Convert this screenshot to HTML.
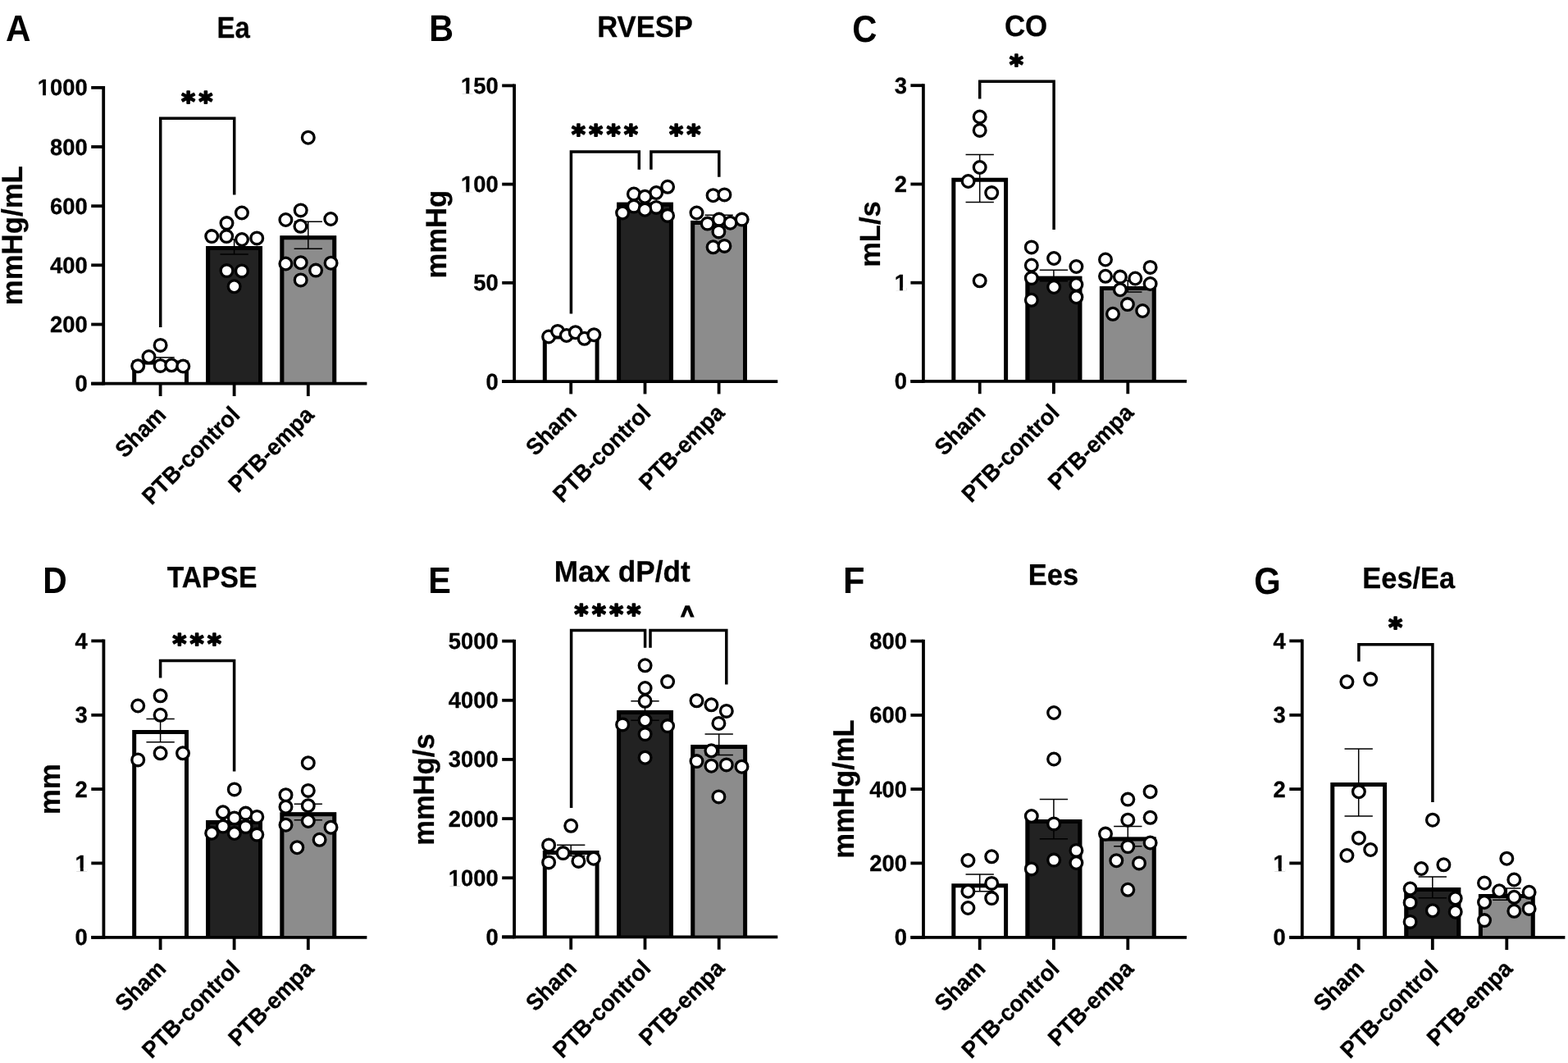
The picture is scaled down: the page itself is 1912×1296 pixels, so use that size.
<!DOCTYPE html>
<html lang="en"><head><meta charset="utf-8"><title>Figure</title>
<style>
html,body{margin:0;padding:0;background:#fff;}
body{width:1912px;height:1296px;overflow:hidden;}
svg{display:block;}
svg text{font-family:"Liberation Sans", Arial, Helvetica, sans-serif;font-weight:700;fill:#000;text-rendering:geometricPrecision;stroke:#000;stroke-width:0.3px;stroke-linejoin:round;}
svg text.st{font-family:"DejaVu Sans","Liberation Sans",sans-serif;font-weight:700;font-size:32px;letter-spacing:4.6px;stroke:#000;stroke-width:2px;stroke-linejoin:round;}
</style></head>
<body>
<svg width="1912" height="1296" viewBox="0 0 1912 1296">
<rect width="1912" height="1296" fill="#fff"/>
<g>
<rect x="161.20" y="439.60" width="68.80" height="28.60" fill="#ffffff"/>
<path d="M163.70 468.20V442.10H227.50V468.20" fill="none" stroke="#000" stroke-width="5" stroke-linejoin="miter"/>
<rect x="251.20" y="300.10" width="68.80" height="168.10" fill="#222222"/>
<path d="M253.70 468.20V302.60H317.50V468.20" fill="none" stroke="#000" stroke-width="5" stroke-linejoin="miter"/>
<rect x="341.40" y="287.30" width="68.80" height="180.90" fill="#8c8c8c"/>
<path d="M343.90 468.20V289.80H407.70V468.20" fill="none" stroke="#000" stroke-width="5" stroke-linejoin="miter"/>
<path d="M195.60 435.70V443.50M178.45 435.70h34.3M178.45 443.50h34.3" fill="none" stroke="#000" stroke-width="1.5"/>
<path d="M285.60 292.00V310.00M268.45 292.00h34.3M268.45 310.00h34.3" fill="none" stroke="#000" stroke-width="1.5"/>
<path d="M375.80 270.30V303.30M358.65 270.30h34.3M358.65 303.30h34.3" fill="none" stroke="#000" stroke-width="1.5"/>
<path d="M126.20 104.95V469.60" stroke="#000" stroke-width="3.8" fill="none"/>
<path d="M111.20 467.70H447.40" stroke="#000" stroke-width="3.8" fill="none"/>
<path d="M111.20 467.70H126.20" stroke="#000" stroke-width="3.8" fill="none"/>
<text transform="translate(106.70 477.20) scale(1 1.015)" text-anchor="end" font-size="27.4">0</text>
<path d="M111.20 395.50H126.20" stroke="#000" stroke-width="3.8" fill="none"/>
<text transform="translate(106.70 405.00) scale(1 1.015)" text-anchor="end" font-size="27.4">200</text>
<path d="M111.20 323.30H126.20" stroke="#000" stroke-width="3.8" fill="none"/>
<text transform="translate(106.70 332.80) scale(1 1.015)" text-anchor="end" font-size="27.4">400</text>
<path d="M111.20 251.20H126.20" stroke="#000" stroke-width="3.8" fill="none"/>
<text transform="translate(106.70 260.70) scale(1 1.015)" text-anchor="end" font-size="27.4">600</text>
<path d="M111.20 179.00H126.20" stroke="#000" stroke-width="3.8" fill="none"/>
<text transform="translate(106.70 188.50) scale(1 1.015)" text-anchor="end" font-size="27.4">800</text>
<path d="M111.20 106.85H126.20" stroke="#000" stroke-width="3.8" fill="none"/>
<text transform="translate(106.70 116.35) scale(1 1.015)" text-anchor="end" font-size="27.4">1000</text>
<path d="M46.75 112.77H52.09V116.95H46.75ZM55.92 112.77H60.86V116.95H55.92Z" fill="#fff"/>
<path d="M195.60 467.70V483.00" stroke="#000" stroke-width="3.8" fill="none"/>
<path d="M285.60 467.70V483.00" stroke="#000" stroke-width="3.8" fill="none"/>
<path d="M375.80 467.70V483.00" stroke="#000" stroke-width="3.8" fill="none"/>
<text transform="translate(204.10 507.50) rotate(-45) scale(1 1.045)" text-anchor="end" font-size="27">Sham</text>
<text transform="translate(294.10 507.50) rotate(-45) scale(1 1.045)" text-anchor="end" font-size="27">PTB-control</text>
<text transform="translate(384.30 507.50) rotate(-45) scale(1 1.045)" text-anchor="end" font-size="27">PTB-empa</text>
<circle cx="195.6" cy="420.9" r="7.35" fill="#fff" stroke="#000" stroke-width="3.3"/>
<circle cx="181.5" cy="435.0" r="7.35" fill="#fff" stroke="#000" stroke-width="3.3"/>
<circle cx="168.2" cy="446.3" r="7.35" fill="#fff" stroke="#000" stroke-width="3.3"/>
<circle cx="195.6" cy="445.9" r="7.35" fill="#fff" stroke="#000" stroke-width="3.3"/>
<circle cx="209.2" cy="445.3" r="7.35" fill="#fff" stroke="#000" stroke-width="3.3"/>
<circle cx="223.3" cy="446.5" r="7.35" fill="#fff" stroke="#000" stroke-width="3.3"/>
<circle cx="294.9" cy="259.5" r="7.35" fill="#fff" stroke="#000" stroke-width="3.3"/>
<circle cx="276.5" cy="272.1" r="7.35" fill="#fff" stroke="#000" stroke-width="3.3"/>
<circle cx="258.2" cy="288.1" r="7.35" fill="#fff" stroke="#000" stroke-width="3.3"/>
<circle cx="276.2" cy="288.1" r="7.35" fill="#fff" stroke="#000" stroke-width="3.3"/>
<circle cx="295.0" cy="292.0" r="7.35" fill="#fff" stroke="#000" stroke-width="3.3"/>
<circle cx="313.2" cy="290.4" r="7.35" fill="#fff" stroke="#000" stroke-width="3.3"/>
<circle cx="276.5" cy="330.1" r="7.35" fill="#fff" stroke="#000" stroke-width="3.3"/>
<circle cx="294.9" cy="330.4" r="7.35" fill="#fff" stroke="#000" stroke-width="3.3"/>
<circle cx="285.6" cy="349.3" r="7.35" fill="#fff" stroke="#000" stroke-width="3.3"/>
<circle cx="375.8" cy="167.7" r="7.35" fill="#fff" stroke="#000" stroke-width="3.3"/>
<circle cx="366.7" cy="256.4" r="7.35" fill="#fff" stroke="#000" stroke-width="3.3"/>
<circle cx="348.4" cy="268.0" r="7.35" fill="#fff" stroke="#000" stroke-width="3.3"/>
<circle cx="403.3" cy="267.0" r="7.35" fill="#fff" stroke="#000" stroke-width="3.3"/>
<circle cx="366.4" cy="275.8" r="7.35" fill="#fff" stroke="#000" stroke-width="3.3"/>
<circle cx="348.4" cy="321.5" r="7.35" fill="#fff" stroke="#000" stroke-width="3.3"/>
<circle cx="366.7" cy="320.2" r="7.35" fill="#fff" stroke="#000" stroke-width="3.3"/>
<circle cx="403.6" cy="320.7" r="7.35" fill="#fff" stroke="#000" stroke-width="3.3"/>
<circle cx="385.1" cy="329.6" r="7.35" fill="#fff" stroke="#000" stroke-width="3.3"/>
<circle cx="366.7" cy="341.4" r="7.35" fill="#fff" stroke="#000" stroke-width="3.3"/>
<path d="M195.70 399.00V144.30H285.70V237.50" fill="none" stroke="#000" stroke-width="3.5" stroke-linejoin="miter"/>
<text x="221.20" y="135.00" class="st">**</text>
<text transform="translate(264.54 46.10) scale(0.8237 0.9091)" font-size="40">Ea</text>
<text transform="translate(27.40 372.28) rotate(-90) scale(0.8699 0.8909)" font-size="40">mmHg/mL</text>
<text style="stroke:none" transform="translate(6.97 50.00) scale(1.0561 1.1273)" font-size="40">A</text>
</g>
<g>
<rect x="661.80" y="408.50" width="68.80" height="57.10" fill="#ffffff"/>
<path d="M664.30 465.60V411.00H728.10V465.60" fill="none" stroke="#000" stroke-width="5" stroke-linejoin="miter"/>
<rect x="752.10" y="246.80" width="68.80" height="218.80" fill="#222222"/>
<path d="M754.60 465.60V249.30H818.40V465.60" fill="none" stroke="#000" stroke-width="5" stroke-linejoin="miter"/>
<rect x="842.20" y="268.90" width="68.80" height="196.70" fill="#8c8c8c"/>
<path d="M844.70 465.60V271.40H908.50V465.60" fill="none" stroke="#000" stroke-width="5" stroke-linejoin="miter"/>
<path d="M696.20 406.50V410.50M679.05 406.50h34.3M679.05 410.50h34.3" fill="none" stroke="#000" stroke-width="1.5"/>
<path d="M786.50 242.00V252.00M769.35 242.00h34.3M769.35 252.00h34.3" fill="none" stroke="#000" stroke-width="1.5"/>
<path d="M876.60 262.30V276.50M859.45 262.30h34.3M859.45 276.50h34.3" fill="none" stroke="#000" stroke-width="1.5"/>
<path d="M627.10 102.50V467.00" stroke="#000" stroke-width="3.8" fill="none"/>
<path d="M612.20 465.10H948.30" stroke="#000" stroke-width="3.8" fill="none"/>
<path d="M612.20 465.10H627.10" stroke="#000" stroke-width="3.8" fill="none"/>
<text transform="translate(607.70 474.60) scale(1 1.015)" text-anchor="end" font-size="27.4">0</text>
<path d="M612.20 344.80H627.10" stroke="#000" stroke-width="3.8" fill="none"/>
<text transform="translate(607.70 354.30) scale(1 1.015)" text-anchor="end" font-size="27.4">50</text>
<path d="M612.20 224.60H627.10" stroke="#000" stroke-width="3.8" fill="none"/>
<text transform="translate(607.70 234.10) scale(1 1.015)" text-anchor="end" font-size="27.4">100</text>
<path d="M562.99 230.52H568.33V234.70H562.99ZM572.16 230.52H577.09V234.70H572.16Z" fill="#fff"/>
<path d="M612.20 104.40H627.10" stroke="#000" stroke-width="3.8" fill="none"/>
<text transform="translate(607.70 113.90) scale(1 1.015)" text-anchor="end" font-size="27.4">150</text>
<path d="M562.99 110.32H568.33V114.50H562.99ZM572.16 110.32H577.09V114.50H572.16Z" fill="#fff"/>
<path d="M696.20 465.10V480.40" stroke="#000" stroke-width="3.8" fill="none"/>
<path d="M786.50 465.10V480.40" stroke="#000" stroke-width="3.8" fill="none"/>
<path d="M876.60 465.10V480.40" stroke="#000" stroke-width="3.8" fill="none"/>
<text transform="translate(704.70 504.90) rotate(-45) scale(1 1.045)" text-anchor="end" font-size="27">Sham</text>
<text transform="translate(795.00 504.90) rotate(-45) scale(1 1.045)" text-anchor="end" font-size="27">PTB-control</text>
<text transform="translate(885.10 504.90) rotate(-45) scale(1 1.045)" text-anchor="end" font-size="27">PTB-empa</text>
<circle cx="669.1" cy="410.5" r="7.35" fill="#fff" stroke="#000" stroke-width="3.3"/>
<circle cx="680.0" cy="403.9" r="7.35" fill="#fff" stroke="#000" stroke-width="3.3"/>
<circle cx="690.8" cy="409.0" r="7.35" fill="#fff" stroke="#000" stroke-width="3.3"/>
<circle cx="701.7" cy="405.2" r="7.35" fill="#fff" stroke="#000" stroke-width="3.3"/>
<circle cx="712.6" cy="412.8" r="7.35" fill="#fff" stroke="#000" stroke-width="3.3"/>
<circle cx="724.3" cy="408.2" r="7.35" fill="#fff" stroke="#000" stroke-width="3.3"/>
<circle cx="814.1" cy="227.8" r="7.35" fill="#fff" stroke="#000" stroke-width="3.3"/>
<circle cx="800.2" cy="235.0" r="7.35" fill="#fff" stroke="#000" stroke-width="3.3"/>
<circle cx="772.9" cy="236.5" r="7.35" fill="#fff" stroke="#000" stroke-width="3.3"/>
<circle cx="786.4" cy="239.7" r="7.35" fill="#fff" stroke="#000" stroke-width="3.3"/>
<circle cx="772.9" cy="251.6" r="7.35" fill="#fff" stroke="#000" stroke-width="3.3"/>
<circle cx="800.2" cy="252.9" r="7.35" fill="#fff" stroke="#000" stroke-width="3.3"/>
<circle cx="786.4" cy="255.7" r="7.35" fill="#fff" stroke="#000" stroke-width="3.3"/>
<circle cx="759.1" cy="259.5" r="7.35" fill="#fff" stroke="#000" stroke-width="3.3"/>
<circle cx="814.1" cy="262.9" r="7.35" fill="#fff" stroke="#000" stroke-width="3.3"/>
<circle cx="869.6" cy="238.2" r="7.35" fill="#fff" stroke="#000" stroke-width="3.3"/>
<circle cx="883.4" cy="237.4" r="7.35" fill="#fff" stroke="#000" stroke-width="3.3"/>
<circle cx="849.5" cy="259.5" r="7.35" fill="#fff" stroke="#000" stroke-width="3.3"/>
<circle cx="876.8" cy="267.6" r="7.35" fill="#fff" stroke="#000" stroke-width="3.3"/>
<circle cx="904.7" cy="267.6" r="7.35" fill="#fff" stroke="#000" stroke-width="3.3"/>
<circle cx="862.7" cy="272.6" r="7.35" fill="#fff" stroke="#000" stroke-width="3.3"/>
<circle cx="890.5" cy="271.7" r="7.35" fill="#fff" stroke="#000" stroke-width="3.3"/>
<circle cx="876.4" cy="282.4" r="7.35" fill="#fff" stroke="#000" stroke-width="3.3"/>
<circle cx="869.6" cy="301.3" r="7.35" fill="#fff" stroke="#000" stroke-width="3.3"/>
<circle cx="883.4" cy="299.9" r="7.35" fill="#fff" stroke="#000" stroke-width="3.3"/>
<path d="M696.40 382.60V185.10H779.30V206.70" fill="none" stroke="#000" stroke-width="3.5" stroke-linejoin="miter"/>
<text x="697.00" y="175.20" class="st">****</text>
<path d="M793.90 206.70V185.10H876.80V215.80" fill="none" stroke="#000" stroke-width="3.5" stroke-linejoin="miter"/>
<text x="816.20" y="175.20" class="st">**</text>
<text transform="translate(728.23 44.50) scale(0.8649 0.9127)" font-size="40">RVESP</text>
<text transform="translate(543.50 339.57) rotate(-90) scale(0.8655 0.8873)" font-size="40">mmHg</text>
<text style="stroke:none" transform="translate(523.19 50.00) scale(1.0327 1.1345)" font-size="40">B</text>
</g>
<g>
<rect x="1160.30" y="216.80" width="68.80" height="248.60" fill="#ffffff"/>
<path d="M1162.80 465.40V219.30H1226.60V465.40" fill="none" stroke="#000" stroke-width="5" stroke-linejoin="miter"/>
<rect x="1250.50" y="336.80" width="68.80" height="128.60" fill="#222222"/>
<path d="M1253.00 465.40V339.30H1316.80V465.40" fill="none" stroke="#000" stroke-width="5" stroke-linejoin="miter"/>
<rect x="1340.90" y="349.10" width="68.80" height="116.30" fill="#8c8c8c"/>
<path d="M1343.40 465.40V351.60H1407.20V465.40" fill="none" stroke="#000" stroke-width="5" stroke-linejoin="miter"/>
<path d="M1194.70 188.40V246.40M1177.55 188.40h34.3M1177.55 246.40h34.3" fill="none" stroke="#000" stroke-width="1.5"/>
<path d="M1284.90 329.30V342.80M1267.75 329.30h34.3M1267.75 342.80h34.3" fill="none" stroke="#000" stroke-width="1.5"/>
<path d="M1375.30 342.00V356.00M1358.15 342.00h34.3M1358.15 356.00h34.3" fill="none" stroke="#000" stroke-width="1.5"/>
<path d="M1125.90 102.30V466.80" stroke="#000" stroke-width="3.8" fill="none"/>
<path d="M1110.40 464.90H1447.00" stroke="#000" stroke-width="3.8" fill="none"/>
<path d="M1110.40 464.90H1125.90" stroke="#000" stroke-width="3.8" fill="none"/>
<text transform="translate(1105.90 474.40) scale(1 1.015)" text-anchor="end" font-size="27.4">0</text>
<path d="M1110.40 344.70H1125.90" stroke="#000" stroke-width="3.8" fill="none"/>
<text transform="translate(1105.90 354.20) scale(1 1.015)" text-anchor="end" font-size="27.4">1</text>
<path d="M1091.67 350.62H1097.01V354.80H1091.67ZM1100.84 350.62H1105.77V354.80H1100.84Z" fill="#fff"/>
<path d="M1110.40 224.50H1125.90" stroke="#000" stroke-width="3.8" fill="none"/>
<text transform="translate(1105.90 234.00) scale(1 1.015)" text-anchor="end" font-size="27.4">2</text>
<path d="M1110.40 104.20H1125.90" stroke="#000" stroke-width="3.8" fill="none"/>
<text transform="translate(1105.90 113.70) scale(1 1.015)" text-anchor="end" font-size="27.4">3</text>
<path d="M1194.70 464.90V480.20" stroke="#000" stroke-width="3.8" fill="none"/>
<path d="M1284.90 464.90V480.20" stroke="#000" stroke-width="3.8" fill="none"/>
<path d="M1375.30 464.90V480.20" stroke="#000" stroke-width="3.8" fill="none"/>
<text transform="translate(1203.20 504.70) rotate(-45) scale(1 1.045)" text-anchor="end" font-size="27">Sham</text>
<text transform="translate(1293.40 504.70) rotate(-45) scale(1 1.045)" text-anchor="end" font-size="27">PTB-control</text>
<text transform="translate(1383.80 504.70) rotate(-45) scale(1 1.045)" text-anchor="end" font-size="27">PTB-empa</text>
<circle cx="1194.7" cy="142.5" r="7.35" fill="#fff" stroke="#000" stroke-width="3.3"/>
<circle cx="1194.7" cy="158.9" r="7.35" fill="#fff" stroke="#000" stroke-width="3.3"/>
<circle cx="1194.7" cy="204.0" r="7.35" fill="#fff" stroke="#000" stroke-width="3.3"/>
<circle cx="1180.6" cy="221.0" r="7.35" fill="#fff" stroke="#000" stroke-width="3.3"/>
<circle cx="1209.2" cy="235.1" r="7.35" fill="#fff" stroke="#000" stroke-width="3.3"/>
<circle cx="1194.7" cy="342.3" r="7.35" fill="#fff" stroke="#000" stroke-width="3.3"/>
<circle cx="1257.8" cy="301.4" r="7.35" fill="#fff" stroke="#000" stroke-width="3.3"/>
<circle cx="1285.1" cy="315.0" r="7.35" fill="#fff" stroke="#000" stroke-width="3.3"/>
<circle cx="1257.8" cy="323.5" r="7.35" fill="#fff" stroke="#000" stroke-width="3.3"/>
<circle cx="1312.4" cy="325.0" r="7.35" fill="#fff" stroke="#000" stroke-width="3.3"/>
<circle cx="1257.8" cy="339.1" r="7.35" fill="#fff" stroke="#000" stroke-width="3.3"/>
<circle cx="1312.4" cy="347.0" r="7.35" fill="#fff" stroke="#000" stroke-width="3.3"/>
<circle cx="1285.1" cy="350.0" r="7.35" fill="#fff" stroke="#000" stroke-width="3.3"/>
<circle cx="1312.4" cy="362.2" r="7.35" fill="#fff" stroke="#000" stroke-width="3.3"/>
<circle cx="1257.8" cy="365.8" r="7.35" fill="#fff" stroke="#000" stroke-width="3.3"/>
<circle cx="1348.0" cy="316.5" r="7.35" fill="#fff" stroke="#000" stroke-width="3.3"/>
<circle cx="1402.6" cy="325.9" r="7.35" fill="#fff" stroke="#000" stroke-width="3.3"/>
<circle cx="1348.0" cy="336.8" r="7.35" fill="#fff" stroke="#000" stroke-width="3.3"/>
<circle cx="1365.9" cy="337.6" r="7.35" fill="#fff" stroke="#000" stroke-width="3.3"/>
<circle cx="1384.3" cy="339.5" r="7.35" fill="#fff" stroke="#000" stroke-width="3.3"/>
<circle cx="1402.6" cy="346.0" r="7.35" fill="#fff" stroke="#000" stroke-width="3.3"/>
<circle cx="1365.9" cy="353.2" r="7.35" fill="#fff" stroke="#000" stroke-width="3.3"/>
<circle cx="1374.9" cy="371.1" r="7.35" fill="#fff" stroke="#000" stroke-width="3.3"/>
<circle cx="1393.2" cy="379.0" r="7.35" fill="#fff" stroke="#000" stroke-width="3.3"/>
<circle cx="1357.0" cy="382.8" r="7.35" fill="#fff" stroke="#000" stroke-width="3.3"/>
<path d="M1194.70 120.60V99.20H1285.10V280.00" fill="none" stroke="#000" stroke-width="3.5" stroke-linejoin="miter"/>
<text x="1230.90" y="90.20" class="st">*</text>
<text transform="translate(1224.88 43.60) scale(0.8722 0.9055)" font-size="40">CO</text>
<text transform="translate(1072.80 325.87) rotate(-90) scale(0.8640 0.8800)" font-size="40">mL/s</text>
<text style="stroke:none" transform="translate(1039.20 50.77) scale(1.0450 1.1504)" font-size="40">C</text>
</g>
<g>
<rect x="161.20" y="890.10" width="68.80" height="253.20" fill="#ffffff"/>
<path d="M163.70 1143.30V892.60H227.50V1143.30" fill="none" stroke="#000" stroke-width="5" stroke-linejoin="miter"/>
<rect x="251.20" y="1000.00" width="68.80" height="143.30" fill="#222222"/>
<path d="M253.70 1143.30V1002.50H317.50V1143.30" fill="none" stroke="#000" stroke-width="5" stroke-linejoin="miter"/>
<rect x="341.40" y="990.30" width="68.80" height="153.00" fill="#8c8c8c"/>
<path d="M343.90 1143.30V992.80H407.70V1143.30" fill="none" stroke="#000" stroke-width="5" stroke-linejoin="miter"/>
<path d="M195.60 876.50V904.80M178.45 876.50h34.3M178.45 904.80h34.3" fill="none" stroke="#000" stroke-width="1.5"/>
<path d="M285.60 995.00V1005.00M268.45 995.00h34.3M268.45 1005.00h34.3" fill="none" stroke="#000" stroke-width="1.5"/>
<path d="M375.80 980.30V999.70M358.65 980.30h34.3M358.65 999.70h34.3" fill="none" stroke="#000" stroke-width="1.5"/>
<path d="M126.40 779.50V1144.70" stroke="#000" stroke-width="3.8" fill="none"/>
<path d="M111.30 1142.80H447.40" stroke="#000" stroke-width="3.8" fill="none"/>
<path d="M111.30 1142.80H126.40" stroke="#000" stroke-width="3.8" fill="none"/>
<text transform="translate(106.80 1152.30) scale(1 1.015)" text-anchor="end" font-size="27.4">0</text>
<path d="M111.30 1052.40H126.40" stroke="#000" stroke-width="3.8" fill="none"/>
<text transform="translate(106.80 1061.90) scale(1 1.015)" text-anchor="end" font-size="27.4">1</text>
<path d="M92.57 1058.32H97.91V1062.50H92.57ZM101.74 1058.32H106.67V1062.50H101.74Z" fill="#fff"/>
<path d="M111.30 962.10H126.40" stroke="#000" stroke-width="3.8" fill="none"/>
<text transform="translate(106.80 971.60) scale(1 1.015)" text-anchor="end" font-size="27.4">2</text>
<path d="M111.30 871.80H126.40" stroke="#000" stroke-width="3.8" fill="none"/>
<text transform="translate(106.80 881.30) scale(1 1.015)" text-anchor="end" font-size="27.4">3</text>
<path d="M111.30 781.40H126.40" stroke="#000" stroke-width="3.8" fill="none"/>
<text transform="translate(106.80 790.90) scale(1 1.015)" text-anchor="end" font-size="27.4">4</text>
<path d="M195.60 1142.80V1158.10" stroke="#000" stroke-width="3.8" fill="none"/>
<path d="M285.60 1142.80V1158.10" stroke="#000" stroke-width="3.8" fill="none"/>
<path d="M375.80 1142.80V1158.10" stroke="#000" stroke-width="3.8" fill="none"/>
<text transform="translate(204.10 1182.60) rotate(-45) scale(1 1.045)" text-anchor="end" font-size="27">Sham</text>
<text transform="translate(294.10 1182.60) rotate(-45) scale(1 1.045)" text-anchor="end" font-size="27">PTB-control</text>
<text transform="translate(384.30 1182.60) rotate(-45) scale(1 1.045)" text-anchor="end" font-size="27">PTB-empa</text>
<circle cx="195.6" cy="848.3" r="7.35" fill="#fff" stroke="#000" stroke-width="3.3"/>
<circle cx="168.2" cy="860.5" r="7.35" fill="#fff" stroke="#000" stroke-width="3.3"/>
<circle cx="195.6" cy="871.8" r="7.35" fill="#fff" stroke="#000" stroke-width="3.3"/>
<circle cx="195.6" cy="918.3" r="7.35" fill="#fff" stroke="#000" stroke-width="3.3"/>
<circle cx="223.0" cy="918.3" r="7.35" fill="#fff" stroke="#000" stroke-width="3.3"/>
<circle cx="168.2" cy="926.4" r="7.35" fill="#fff" stroke="#000" stroke-width="3.3"/>
<circle cx="285.8" cy="962.4" r="7.35" fill="#fff" stroke="#000" stroke-width="3.3"/>
<circle cx="271.9" cy="990.3" r="7.35" fill="#fff" stroke="#000" stroke-width="3.3"/>
<circle cx="299.6" cy="991.6" r="7.35" fill="#fff" stroke="#000" stroke-width="3.3"/>
<circle cx="313.3" cy="995.9" r="7.35" fill="#fff" stroke="#000" stroke-width="3.3"/>
<circle cx="285.8" cy="997.4" r="7.35" fill="#fff" stroke="#000" stroke-width="3.3"/>
<circle cx="271.9" cy="1007.6" r="7.35" fill="#fff" stroke="#000" stroke-width="3.3"/>
<circle cx="299.6" cy="1008.1" r="7.35" fill="#fff" stroke="#000" stroke-width="3.3"/>
<circle cx="258.2" cy="1015.7" r="7.35" fill="#fff" stroke="#000" stroke-width="3.3"/>
<circle cx="285.8" cy="1016.0" r="7.35" fill="#fff" stroke="#000" stroke-width="3.3"/>
<circle cx="313.3" cy="1017.6" r="7.35" fill="#fff" stroke="#000" stroke-width="3.3"/>
<circle cx="375.8" cy="930.2" r="7.35" fill="#fff" stroke="#000" stroke-width="3.3"/>
<circle cx="375.8" cy="963.9" r="7.35" fill="#fff" stroke="#000" stroke-width="3.3"/>
<circle cx="348.5" cy="969.2" r="7.35" fill="#fff" stroke="#000" stroke-width="3.3"/>
<circle cx="375.8" cy="982.2" r="7.35" fill="#fff" stroke="#000" stroke-width="3.3"/>
<circle cx="348.5" cy="983.7" r="7.35" fill="#fff" stroke="#000" stroke-width="3.3"/>
<circle cx="375.8" cy="1001.0" r="7.35" fill="#fff" stroke="#000" stroke-width="3.3"/>
<circle cx="348.5" cy="1005.7" r="7.35" fill="#fff" stroke="#000" stroke-width="3.3"/>
<circle cx="403.5" cy="1008.7" r="7.35" fill="#fff" stroke="#000" stroke-width="3.3"/>
<circle cx="389.6" cy="1023.8" r="7.35" fill="#fff" stroke="#000" stroke-width="3.3"/>
<circle cx="362.3" cy="1033.2" r="7.35" fill="#fff" stroke="#000" stroke-width="3.3"/>
<path d="M195.60 826.60V805.50H285.60V940.50" fill="none" stroke="#000" stroke-width="3.5" stroke-linejoin="miter"/>
<text x="210.40" y="796.20" class="st">***</text>
<text transform="translate(203.68 715.80) scale(0.8413 0.9055)" font-size="40">TAPSE</text>
<text transform="translate(73.10 993.19) rotate(-90) scale(0.8727 0.8967)" font-size="40">mm</text>
<text style="stroke:none" transform="translate(52.32 723.00) scale(1.0193 1.1273)" font-size="40">D</text>
</g>
<g>
<rect x="661.80" y="1036.90" width="68.80" height="106.00" fill="#ffffff"/>
<path d="M664.30 1142.90V1039.40H728.10V1142.90" fill="none" stroke="#000" stroke-width="5" stroke-linejoin="miter"/>
<rect x="752.10" y="865.90" width="68.80" height="277.00" fill="#222222"/>
<path d="M754.60 1142.90V868.40H818.40V1142.90" fill="none" stroke="#000" stroke-width="5" stroke-linejoin="miter"/>
<rect x="842.30" y="907.90" width="68.80" height="235.00" fill="#8c8c8c"/>
<path d="M844.80 1142.90V910.40H908.60V1142.90" fill="none" stroke="#000" stroke-width="5" stroke-linejoin="miter"/>
<path d="M696.20 1030.20V1043.60M679.05 1030.20h34.3M679.05 1043.60h34.3" fill="none" stroke="#000" stroke-width="1.5"/>
<path d="M786.50 854.80V878.20M769.35 854.80h34.3M769.35 878.20h34.3" fill="none" stroke="#000" stroke-width="1.5"/>
<path d="M876.70 895.10V920.50M859.55 895.10h34.3M859.55 920.50h34.3" fill="none" stroke="#000" stroke-width="1.5"/>
<path d="M627.10 779.70V1144.30" stroke="#000" stroke-width="3.8" fill="none"/>
<path d="M612.20 1142.40H948.30" stroke="#000" stroke-width="3.8" fill="none"/>
<path d="M612.20 1142.40H627.10" stroke="#000" stroke-width="3.8" fill="none"/>
<text transform="translate(607.70 1151.90) scale(1 1.015)" text-anchor="end" font-size="27.4">0</text>
<path d="M612.20 1070.30H627.10" stroke="#000" stroke-width="3.8" fill="none"/>
<text transform="translate(607.70 1079.80) scale(1 1.015)" text-anchor="end" font-size="27.4">1000</text>
<path d="M547.75 1076.22H553.09V1080.40H547.75ZM556.92 1076.22H561.86V1080.40H556.92Z" fill="#fff"/>
<path d="M612.20 998.10H627.10" stroke="#000" stroke-width="3.8" fill="none"/>
<text transform="translate(607.70 1007.60) scale(1 1.015)" text-anchor="end" font-size="27.4">2000</text>
<path d="M612.20 925.90H627.10" stroke="#000" stroke-width="3.8" fill="none"/>
<text transform="translate(607.70 935.40) scale(1 1.015)" text-anchor="end" font-size="27.4">3000</text>
<path d="M612.20 853.80H627.10" stroke="#000" stroke-width="3.8" fill="none"/>
<text transform="translate(607.70 863.30) scale(1 1.015)" text-anchor="end" font-size="27.4">4000</text>
<path d="M612.20 781.60H627.10" stroke="#000" stroke-width="3.8" fill="none"/>
<text transform="translate(607.70 791.10) scale(1 1.015)" text-anchor="end" font-size="27.4">5000</text>
<path d="M696.20 1142.40V1157.70" stroke="#000" stroke-width="3.8" fill="none"/>
<path d="M786.50 1142.40V1157.70" stroke="#000" stroke-width="3.8" fill="none"/>
<path d="M876.70 1142.40V1157.70" stroke="#000" stroke-width="3.8" fill="none"/>
<text transform="translate(704.70 1182.20) rotate(-45) scale(1 1.045)" text-anchor="end" font-size="27">Sham</text>
<text transform="translate(795.00 1182.20) rotate(-45) scale(1 1.045)" text-anchor="end" font-size="27">PTB-control</text>
<text transform="translate(885.20 1182.20) rotate(-45) scale(1 1.045)" text-anchor="end" font-size="27">PTB-empa</text>
<circle cx="696.2" cy="1006.8" r="7.35" fill="#fff" stroke="#000" stroke-width="3.3"/>
<circle cx="669.1" cy="1030.4" r="7.35" fill="#fff" stroke="#000" stroke-width="3.3"/>
<circle cx="686.6" cy="1040.1" r="7.35" fill="#fff" stroke="#000" stroke-width="3.3"/>
<circle cx="723.9" cy="1046.7" r="7.35" fill="#fff" stroke="#000" stroke-width="3.3"/>
<circle cx="705.4" cy="1049.9" r="7.35" fill="#fff" stroke="#000" stroke-width="3.3"/>
<circle cx="669.1" cy="1051.4" r="7.35" fill="#fff" stroke="#000" stroke-width="3.3"/>
<circle cx="786.6" cy="811.3" r="7.35" fill="#fff" stroke="#000" stroke-width="3.3"/>
<circle cx="814.1" cy="831.1" r="7.35" fill="#fff" stroke="#000" stroke-width="3.3"/>
<circle cx="786.6" cy="839.0" r="7.35" fill="#fff" stroke="#000" stroke-width="3.3"/>
<circle cx="786.6" cy="854.8" r="7.35" fill="#fff" stroke="#000" stroke-width="3.3"/>
<circle cx="786.6" cy="878.2" r="7.35" fill="#fff" stroke="#000" stroke-width="3.3"/>
<circle cx="759.1" cy="883.4" r="7.35" fill="#fff" stroke="#000" stroke-width="3.3"/>
<circle cx="814.1" cy="885.1" r="7.35" fill="#fff" stroke="#000" stroke-width="3.3"/>
<circle cx="786.6" cy="895.1" r="7.35" fill="#fff" stroke="#000" stroke-width="3.3"/>
<circle cx="786.6" cy="923.7" r="7.35" fill="#fff" stroke="#000" stroke-width="3.3"/>
<circle cx="849.5" cy="854.3" r="7.35" fill="#fff" stroke="#000" stroke-width="3.3"/>
<circle cx="867.4" cy="859.3" r="7.35" fill="#fff" stroke="#000" stroke-width="3.3"/>
<circle cx="885.8" cy="866.9" r="7.35" fill="#fff" stroke="#000" stroke-width="3.3"/>
<circle cx="876.4" cy="881.9" r="7.35" fill="#fff" stroke="#000" stroke-width="3.3"/>
<circle cx="867.4" cy="915.3" r="7.35" fill="#fff" stroke="#000" stroke-width="3.3"/>
<circle cx="849.5" cy="928.1" r="7.35" fill="#fff" stroke="#000" stroke-width="3.3"/>
<circle cx="867.4" cy="933.7" r="7.35" fill="#fff" stroke="#000" stroke-width="3.3"/>
<circle cx="885.8" cy="932.4" r="7.35" fill="#fff" stroke="#000" stroke-width="3.3"/>
<circle cx="904.5" cy="934.7" r="7.35" fill="#fff" stroke="#000" stroke-width="3.3"/>
<circle cx="876.4" cy="971.4" r="7.35" fill="#fff" stroke="#000" stroke-width="3.3"/>
<path d="M696.60 985.00V768.60H786.60V789.70" fill="none" stroke="#000" stroke-width="3.5" stroke-linejoin="miter"/>
<text x="700.60" y="760.20" class="st">****</text>
<path d="M793.00 789.70V768.60H885.80V834.50" fill="none" stroke="#000" stroke-width="3.5" stroke-linejoin="miter"/>
<text transform="translate(830.31 758.96) scale(0.6798 0.7257)" font-size="40" style="stroke:#000;stroke-width:2.28px;stroke-linejoin:miter">^</text>
<text transform="translate(675.69 708.80) scale(0.8791 0.9018)" font-size="40">Max dP/dt</text>
<text transform="translate(528.90 1030.87) rotate(-90) scale(0.8645 0.8982)" font-size="40">mmHg/s</text>
<text style="stroke:none" transform="translate(522.18 723.00) scale(1.0356 1.1273)" font-size="40">E</text>
</g>
<g>
<rect x="1160.30" y="1077.20" width="68.80" height="66.10" fill="#ffffff"/>
<path d="M1162.80 1143.30V1079.70H1226.60V1143.30" fill="none" stroke="#000" stroke-width="5" stroke-linejoin="miter"/>
<rect x="1250.50" y="999.10" width="68.80" height="144.20" fill="#222222"/>
<path d="M1253.00 1143.30V1001.60H1316.80V1143.30" fill="none" stroke="#000" stroke-width="5" stroke-linejoin="miter"/>
<rect x="1340.90" y="1020.40" width="68.80" height="122.90" fill="#8c8c8c"/>
<path d="M1343.40 1143.30V1022.90H1407.20V1143.30" fill="none" stroke="#000" stroke-width="5" stroke-linejoin="miter"/>
<path d="M1194.70 1065.90V1086.70M1177.55 1065.90h34.3M1177.55 1086.70h34.3" fill="none" stroke="#000" stroke-width="1.5"/>
<path d="M1284.90 974.60V1022.80M1267.75 974.60h34.3M1267.75 1022.80h34.3" fill="none" stroke="#000" stroke-width="1.5"/>
<path d="M1375.30 1007.60V1031.70M1358.15 1007.60h34.3M1358.15 1031.70h34.3" fill="none" stroke="#000" stroke-width="1.5"/>
<path d="M1126.00 779.70V1144.70" stroke="#000" stroke-width="3.8" fill="none"/>
<path d="M1110.40 1142.80H1447.00" stroke="#000" stroke-width="3.8" fill="none"/>
<path d="M1110.40 1142.80H1126.00" stroke="#000" stroke-width="3.8" fill="none"/>
<text transform="translate(1105.90 1152.30) scale(1 1.015)" text-anchor="end" font-size="27.4">0</text>
<path d="M1110.40 1052.40H1126.00" stroke="#000" stroke-width="3.8" fill="none"/>
<text transform="translate(1105.90 1061.90) scale(1 1.015)" text-anchor="end" font-size="27.4">200</text>
<path d="M1110.40 962.10H1126.00" stroke="#000" stroke-width="3.8" fill="none"/>
<text transform="translate(1105.90 971.60) scale(1 1.015)" text-anchor="end" font-size="27.4">400</text>
<path d="M1110.40 871.90H1126.00" stroke="#000" stroke-width="3.8" fill="none"/>
<text transform="translate(1105.90 881.40) scale(1 1.015)" text-anchor="end" font-size="27.4">600</text>
<path d="M1110.40 781.60H1126.00" stroke="#000" stroke-width="3.8" fill="none"/>
<text transform="translate(1105.90 791.10) scale(1 1.015)" text-anchor="end" font-size="27.4">800</text>
<path d="M1194.70 1142.80V1158.10" stroke="#000" stroke-width="3.8" fill="none"/>
<path d="M1284.90 1142.80V1158.10" stroke="#000" stroke-width="3.8" fill="none"/>
<path d="M1375.30 1142.80V1158.10" stroke="#000" stroke-width="3.8" fill="none"/>
<text transform="translate(1203.20 1182.60) rotate(-45) scale(1 1.045)" text-anchor="end" font-size="27">Sham</text>
<text transform="translate(1293.40 1182.60) rotate(-45) scale(1 1.045)" text-anchor="end" font-size="27">PTB-control</text>
<text transform="translate(1383.80 1182.60) rotate(-45) scale(1 1.045)" text-anchor="end" font-size="27">PTB-empa</text>
<circle cx="1209.2" cy="1044.3" r="7.35" fill="#fff" stroke="#000" stroke-width="3.3"/>
<circle cx="1180.4" cy="1049.0" r="7.35" fill="#fff" stroke="#000" stroke-width="3.3"/>
<circle cx="1209.2" cy="1076.9" r="7.35" fill="#fff" stroke="#000" stroke-width="3.3"/>
<circle cx="1180.4" cy="1086.7" r="7.35" fill="#fff" stroke="#000" stroke-width="3.3"/>
<circle cx="1209.2" cy="1095.1" r="7.35" fill="#fff" stroke="#000" stroke-width="3.3"/>
<circle cx="1180.4" cy="1107.0" r="7.35" fill="#fff" stroke="#000" stroke-width="3.3"/>
<circle cx="1285.1" cy="869.0" r="7.35" fill="#fff" stroke="#000" stroke-width="3.3"/>
<circle cx="1285.1" cy="925.5" r="7.35" fill="#fff" stroke="#000" stroke-width="3.3"/>
<circle cx="1257.8" cy="995.0" r="7.35" fill="#fff" stroke="#000" stroke-width="3.3"/>
<circle cx="1285.1" cy="1004.4" r="7.35" fill="#fff" stroke="#000" stroke-width="3.3"/>
<circle cx="1312.4" cy="1036.9" r="7.35" fill="#fff" stroke="#000" stroke-width="3.3"/>
<circle cx="1285.1" cy="1048.6" r="7.35" fill="#fff" stroke="#000" stroke-width="3.3"/>
<circle cx="1312.4" cy="1052.0" r="7.35" fill="#fff" stroke="#000" stroke-width="3.3"/>
<circle cx="1257.8" cy="1059.4" r="7.35" fill="#fff" stroke="#000" stroke-width="3.3"/>
<circle cx="1402.6" cy="965.2" r="7.35" fill="#fff" stroke="#000" stroke-width="3.3"/>
<circle cx="1375.3" cy="974.6" r="7.35" fill="#fff" stroke="#000" stroke-width="3.3"/>
<circle cx="1402.6" cy="996.8" r="7.35" fill="#fff" stroke="#000" stroke-width="3.3"/>
<circle cx="1375.3" cy="999.7" r="7.35" fill="#fff" stroke="#000" stroke-width="3.3"/>
<circle cx="1348.0" cy="1016.6" r="7.35" fill="#fff" stroke="#000" stroke-width="3.3"/>
<circle cx="1402.6" cy="1027.5" r="7.35" fill="#fff" stroke="#000" stroke-width="3.3"/>
<circle cx="1375.3" cy="1032.1" r="7.35" fill="#fff" stroke="#000" stroke-width="3.3"/>
<circle cx="1361.3" cy="1049.2" r="7.35" fill="#fff" stroke="#000" stroke-width="3.3"/>
<circle cx="1389.0" cy="1052.4" r="7.35" fill="#fff" stroke="#000" stroke-width="3.3"/>
<circle cx="1375.3" cy="1084.8" r="7.35" fill="#fff" stroke="#000" stroke-width="3.3"/>
<text transform="translate(1253.84 713.30) scale(0.8613 0.9055)" font-size="40">Ees</text>
<text transform="translate(1041.00 1046.67) rotate(-90) scale(0.8662 0.9055)" font-size="40">mmHg/mL</text>
<text style="stroke:none" transform="translate(1028.05 723.00) scale(1.0847 1.1273)" font-size="40">F</text>
</g>
<g>
<rect x="1622.30" y="954.10" width="68.80" height="189.20" fill="#ffffff"/>
<path d="M1624.80 1143.30V956.60H1688.60V1143.30" fill="none" stroke="#000" stroke-width="5" stroke-linejoin="miter"/>
<rect x="1712.40" y="1082.10" width="68.80" height="61.20" fill="#222222"/>
<path d="M1714.90 1143.30V1084.60H1778.70V1143.30" fill="none" stroke="#000" stroke-width="5" stroke-linejoin="miter"/>
<rect x="1802.90" y="1090.00" width="68.80" height="53.30" fill="#8c8c8c"/>
<path d="M1805.40 1143.30V1092.50H1869.20V1143.30" fill="none" stroke="#000" stroke-width="5" stroke-linejoin="miter"/>
<path d="M1656.70 912.90V995.00M1639.55 912.90h34.3M1639.55 995.00h34.3" fill="none" stroke="#000" stroke-width="1.5"/>
<path d="M1746.80 1069.00V1094.80M1729.65 1069.00h34.3M1729.65 1094.80h34.3" fill="none" stroke="#000" stroke-width="1.5"/>
<path d="M1837.30 1082.90V1097.20M1820.15 1082.90h34.3M1820.15 1097.20h34.3" fill="none" stroke="#000" stroke-width="1.5"/>
<path d="M1587.80 779.50V1144.70" stroke="#000" stroke-width="3.8" fill="none"/>
<path d="M1572.30 1142.80H1908.40" stroke="#000" stroke-width="3.8" fill="none"/>
<path d="M1572.30 1142.80H1587.80" stroke="#000" stroke-width="3.8" fill="none"/>
<text transform="translate(1567.80 1152.30) scale(1 1.015)" text-anchor="end" font-size="27.4">0</text>
<path d="M1572.30 1052.40H1587.80" stroke="#000" stroke-width="3.8" fill="none"/>
<text transform="translate(1567.80 1061.90) scale(1 1.015)" text-anchor="end" font-size="27.4">1</text>
<path d="M1553.57 1058.32H1558.91V1062.50H1553.57ZM1562.74 1058.32H1567.67V1062.50H1562.74Z" fill="#fff"/>
<path d="M1572.30 962.10H1587.80" stroke="#000" stroke-width="3.8" fill="none"/>
<text transform="translate(1567.80 971.60) scale(1 1.015)" text-anchor="end" font-size="27.4">2</text>
<path d="M1572.30 871.80H1587.80" stroke="#000" stroke-width="3.8" fill="none"/>
<text transform="translate(1567.80 881.30) scale(1 1.015)" text-anchor="end" font-size="27.4">3</text>
<path d="M1572.30 781.40H1587.80" stroke="#000" stroke-width="3.8" fill="none"/>
<text transform="translate(1567.80 790.90) scale(1 1.015)" text-anchor="end" font-size="27.4">4</text>
<path d="M1656.70 1142.80V1158.10" stroke="#000" stroke-width="3.8" fill="none"/>
<path d="M1746.80 1142.80V1158.10" stroke="#000" stroke-width="3.8" fill="none"/>
<path d="M1837.30 1142.80V1158.10" stroke="#000" stroke-width="3.8" fill="none"/>
<text transform="translate(1665.20 1182.60) rotate(-45) scale(1 1.045)" text-anchor="end" font-size="27">Sham</text>
<text transform="translate(1755.30 1182.60) rotate(-45) scale(1 1.045)" text-anchor="end" font-size="27">PTB-control</text>
<text transform="translate(1845.80 1182.60) rotate(-45) scale(1 1.045)" text-anchor="end" font-size="27">PTB-empa</text>
<circle cx="1642.4" cy="831.3" r="7.35" fill="#fff" stroke="#000" stroke-width="3.3"/>
<circle cx="1671.2" cy="828.1" r="7.35" fill="#fff" stroke="#000" stroke-width="3.3"/>
<circle cx="1656.9" cy="965.2" r="7.35" fill="#fff" stroke="#000" stroke-width="3.3"/>
<circle cx="1656.9" cy="1021.7" r="7.35" fill="#fff" stroke="#000" stroke-width="3.3"/>
<circle cx="1671.2" cy="1036.0" r="7.35" fill="#fff" stroke="#000" stroke-width="3.3"/>
<circle cx="1642.4" cy="1043.0" r="7.35" fill="#fff" stroke="#000" stroke-width="3.3"/>
<circle cx="1746.9" cy="999.7" r="7.35" fill="#fff" stroke="#000" stroke-width="3.3"/>
<circle cx="1760.4" cy="1054.3" r="7.35" fill="#fff" stroke="#000" stroke-width="3.3"/>
<circle cx="1733.1" cy="1059.0" r="7.35" fill="#fff" stroke="#000" stroke-width="3.3"/>
<circle cx="1719.6" cy="1083.5" r="7.35" fill="#fff" stroke="#000" stroke-width="3.3"/>
<circle cx="1774.7" cy="1095.3" r="7.35" fill="#fff" stroke="#000" stroke-width="3.3"/>
<circle cx="1719.6" cy="1100.4" r="7.35" fill="#fff" stroke="#000" stroke-width="3.3"/>
<circle cx="1746.9" cy="1110.2" r="7.35" fill="#fff" stroke="#000" stroke-width="3.3"/>
<circle cx="1774.7" cy="1111.7" r="7.35" fill="#fff" stroke="#000" stroke-width="3.3"/>
<circle cx="1719.6" cy="1123.9" r="7.35" fill="#fff" stroke="#000" stroke-width="3.3"/>
<circle cx="1837.3" cy="1046.7" r="7.35" fill="#fff" stroke="#000" stroke-width="3.3"/>
<circle cx="1846.3" cy="1072.5" r="7.35" fill="#fff" stroke="#000" stroke-width="3.3"/>
<circle cx="1810.0" cy="1076.5" r="7.35" fill="#fff" stroke="#000" stroke-width="3.3"/>
<circle cx="1828.2" cy="1086.3" r="7.35" fill="#fff" stroke="#000" stroke-width="3.3"/>
<circle cx="1864.6" cy="1087.8" r="7.35" fill="#fff" stroke="#000" stroke-width="3.3"/>
<circle cx="1846.3" cy="1093.8" r="7.35" fill="#fff" stroke="#000" stroke-width="3.3"/>
<circle cx="1810.0" cy="1100.0" r="7.35" fill="#fff" stroke="#000" stroke-width="3.3"/>
<circle cx="1864.6" cy="1107.9" r="7.35" fill="#fff" stroke="#000" stroke-width="3.3"/>
<circle cx="1846.3" cy="1110.8" r="7.35" fill="#fff" stroke="#000" stroke-width="3.3"/>
<circle cx="1810.0" cy="1122.1" r="7.35" fill="#fff" stroke="#000" stroke-width="3.3"/>
<path d="M1656.90 806.50V785.80H1746.90V978.00" fill="none" stroke="#000" stroke-width="3.5" stroke-linejoin="miter"/>
<text x="1693.20" y="776.20" class="st">*</text>
<text transform="translate(1661.35 716.90) scale(0.8590 0.9055)" font-size="40">Ees/Ea</text>
<text style="stroke:none" transform="translate(1529.20 723.67) scale(1.0444 1.1434)" font-size="40">G</text>
</g>
</svg>
</body></html>
